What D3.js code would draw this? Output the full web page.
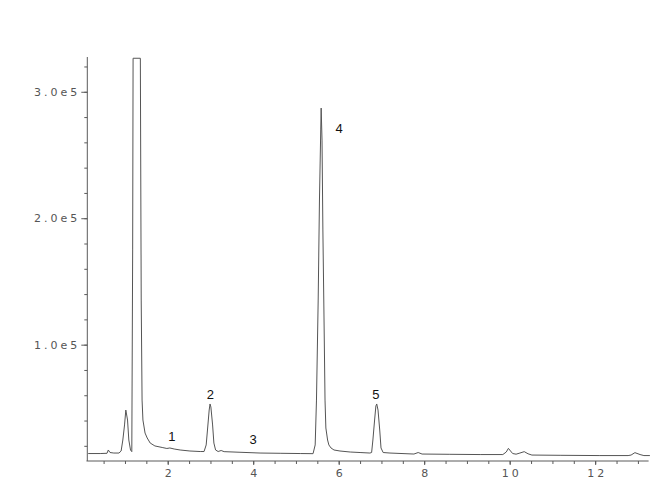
<!DOCTYPE html>
<html>
<head>
<meta charset="utf-8">
<script src="https://cdn.jsdelivr.net/npm/d3@7"></script>
<style>
  html, body { margin: 0; padding: 0; background: #fff; }
  svg { display: block; }
</style>
</head>
<body>
<div id="chart"></div>
<script>
// Retention time (min) and detector response
const times = [0.14, 0.42, 0.58, 0.61, 0.65, 0.74, 0.86, 0.91, 0.95, 0.99, 1.02, 1.06, 1.09, 1.13, 1.16,
  1.18, 1.19, 1.36, 1.38, 1.40, 1.42, 1.47, 1.52, 1.59, 1.70, 1.87, 1.98, 2.05, 2.15, 2.29, 2.52, 2.76,
  2.85, 2.90, 2.93, 2.97, 2.99, 3.01, 3.05, 3.08, 3.12, 3.18, 3.25, 3.32, 3.69, 4.16, 4.63, 5.10, 5.40,
  5.45, 5.48, 5.52, 5.55, 5.58, 5.59, 5.61, 5.63, 5.66, 5.68, 5.70, 5.74, 5.77, 5.82, 5.89, 6.03, 6.27,
  6.50, 6.73, 6.77, 6.80, 6.84, 6.87, 6.89, 6.92, 6.96, 6.99, 7.04, 7.20, 7.76, 7.86, 7.95, 8.60, 9.31,
  9.84, 9.92, 9.97, 10.02, 10.07, 10.15, 10.24, 10.34, 10.43, 10.52, 11.18, 12.11, 12.77, 12.84, 12.93,
  13.05, 13.14, 13.28];
const intensity = [13900, 13900, 14100, 16700, 14700, 14300, 14300, 15900, 24600, 36500, 48300, 40400, 24600, 16700, 15400,
  174900, 326500, 326500, 135300, 56200, 40400, 30100, 26200, 22200, 19900, 18700, 17900, 18300, 17500, 16700, 15900, 15500,
  15500, 20700, 32500, 48300, 53100, 50700, 36500, 22200, 16700, 15500, 16300, 15400, 14900, 14300, 14100, 13900, 13800,
  20700, 56200, 135300, 214400, 269800, 287100, 261800, 190700, 111600, 56200, 34100, 24600, 20700, 18300, 16700, 15900, 15100,
  14700, 14300, 14700, 24600, 40400, 51500, 53100, 48300, 32500, 18300, 14700, 14300, 13500, 14700, 13500, 13300, 13100,
  13100, 15100, 18000, 15900, 13900, 13400, 14300, 15400, 13700, 12700, 12500, 12300, 12300, 12700, 14600,
  13100, 12300, 12300];

// Peak annotations
const peakLabels = ["1", "2", "3", "4", "5"];
const peakTimes = [2.10, 3.00, 4.00, 6.01, 6.87];
const peakLabelValues = [27800, 61000, 25000, 271300, 61000];

// Axis ticks
const xTickValues = [2, 4, 6, 8, 10, 12];
const yTickValues = [100000, 200000, 300000];
const yTickLabels = ["1.0e5", "2.0e5", "3.0e5"];

const W = 650, H = 501;
const svg = d3.select("#chart").append("svg").attr("width", W).attr("height", H);

const x = d3.scaleLinear().domain([0.1, 13.25]).range([86.5, 648.6]);
const y = d3.scaleLinear().domain([8000, 327500]).range([461, 57]);

const axisColor = "#5a5a5a";
const labelFont = "'DejaVu Sans', sans-serif";

// X axis: minor ticks
const xMinor = d3.range(0.5, 13.01, 0.5);
svg.append("g")
  .attr("transform", `translate(0,${y(8000)})`)
  .call(d3.axisBottom(x).tickValues(xMinor).tickSize(3).tickFormat(""))
  .call(g => g.select(".domain").attr("stroke", axisColor).attr("d", `M${x.range()[0]},0H${x.range()[1]}`))
  .call(g => g.selectAll(".tick line").attr("stroke", axisColor));

// X axis labels
svg.append("g")
  .attr("transform", `translate(0,${y(8000)})`)
  .call(d3.axisBottom(x).tickValues(xTickValues).tickSize(4).tickPadding(4).tickFormat(d3.format("d")))
  .call(g => g.select(".domain").remove())
  .call(g => g.selectAll(".tick line").attr("stroke", axisColor))
  .call(g => g.selectAll(".tick text")
    .attr("fill", "#555").attr("font-family", labelFont).attr("font-size", 11)
    .attr("letter-spacing", "3px").attr("dx", "1.5px"));

// Y axis: minor ticks
const yMinor = d3.range(20000, 320001, 20000);
svg.append("g")
  .attr("transform", `translate(${x(0.1) + 0.8},0)`)
  .call(d3.axisLeft(y).tickValues(yMinor).tickSize(3).tickFormat(""))
  .call(g => g.select(".domain").attr("stroke", axisColor).attr("d", `M0,${y.range()[0]}V${y.range()[1]}`))
  .call(g => g.selectAll(".tick line").attr("stroke", axisColor));

// Y axis labels
svg.append("g")
  .attr("transform", `translate(${x(0.1) + 0.8},0)`)
  .call(d3.axisLeft(y).tickValues(yTickValues).tickSize(6).tickPadding(1)
    .tickFormat((d, i) => yTickLabels[i]))
  .call(g => g.select(".domain").remove())
  .call(g => g.selectAll(".tick line").attr("stroke", axisColor))
  .call(g => g.selectAll(".tick text")
    .attr("fill", "#555").attr("font-family", labelFont).attr("font-size", 11)
    .attr("letter-spacing", "3px"));

// Chromatogram trace
const data = times.map((t, i) => ({ t, v: intensity[i] }));
const line = d3.line().x(d => x(d.t)).y(d => y(d.v));
svg.append("path")
  .datum(data)
  .attr("fill", "none")
  .attr("stroke", "#555")
  .attr("stroke-width", 1)
  .attr("stroke-linejoin", "round")
  .attr("d", line);

// Peak number labels
svg.append("g").selectAll("text")
  .data(peakLabels)
  .join("text")
  .attr("x", (d, i) => x(peakTimes[i]))
  .attr("y", (d, i) => y(peakLabelValues[i]))
  .attr("text-anchor", "middle")
  .attr("dy", "0.35em")
  .attr("font-family", "'Liberation Sans', Arial, sans-serif")
  .attr("font-size", 13)
  .attr("fill", "#111")
  .text(d => d);
</script>
</body>
</html>
